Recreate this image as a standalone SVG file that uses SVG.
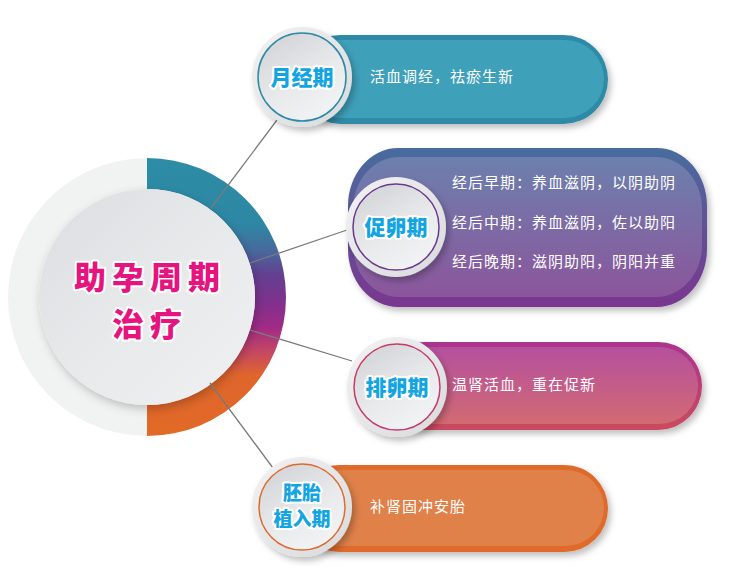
<svg xmlns="http://www.w3.org/2000/svg" width="736" height="577" viewBox="0 0 736 577">
<defs>
<linearGradient id="ringGrad" x1="0" y1="158" x2="0" y2="436" gradientUnits="userSpaceOnUse">
<stop offset="0" stop-color="#2c8ca6"/>
<stop offset="0.24" stop-color="#2e87a4"/>
<stop offset="0.33" stop-color="#466a9c"/>
<stop offset="0.42" stop-color="#643f91"/>
<stop offset="0.52" stop-color="#7f318d"/>
<stop offset="0.61" stop-color="#a12a86"/>
<stop offset="0.7" stop-color="#c64862"/>
<stop offset="0.78" stop-color="#df652c"/>
<stop offset="1" stop-color="#e26a26"/>
</linearGradient>
<linearGradient id="centerDisc" x1="0" y1="0" x2="1" y2="1">
<stop offset="0" stop-color="#dcdde0"/>
<stop offset="0.5" stop-color="#e8e9eb"/>
<stop offset="1" stop-color="#eef0f1"/>
</linearGradient>
<linearGradient id="knob" x1="0.2" y1="0" x2="0.8" y2="1">
<stop offset="0" stop-color="#d3d4d7"/>
<stop offset="0.55" stop-color="#e9eaec"/>
<stop offset="1" stop-color="#f3f4f5"/>
</linearGradient>
<linearGradient id="knobRim" x1="0" y1="0" x2="1" y2="1">
<stop offset="0" stop-color="#f2f2f3"/>
<stop offset="1" stop-color="#d9dadc"/>
</linearGradient>
<linearGradient id="g2o" x1="0" y1="0" x2="0" y2="1">
<stop offset="0" stop-color="#486c9e"/>
<stop offset="1" stop-color="#7a368f"/>
</linearGradient>
<linearGradient id="g2i" x1="0" y1="0" x2="0" y2="1">
<stop offset="0" stop-color="#6c80ad"/>
<stop offset="1" stop-color="#8c559c"/>
</linearGradient>
<linearGradient id="g3o" x1="0" y1="0" x2="0" y2="1">
<stop offset="0" stop-color="#a9348f"/>
<stop offset="1" stop-color="#cb4a5e"/>
</linearGradient>
<linearGradient id="g3i" x1="0" y1="0" x2="0" y2="1">
<stop offset="0" stop-color="#b5509e"/>
<stop offset="1" stop-color="#d26a73"/>
</linearGradient>
<filter id="sh" x="-20%" y="-20%" width="140%" height="150%">
<feDropShadow dx="3" dy="4" stdDeviation="3" flood-color="#000" flood-opacity="0.25"/>
</filter>
<filter id="shc" x="-20%" y="-20%" width="140%" height="140%">
<feDropShadow dx="2" dy="4" stdDeviation="5" flood-color="#000" flood-opacity="0.22"/>
</filter>
</defs>
<style>
.lbl{font-family:"Noto Sans CJK SC","Noto Sans",sans-serif;font-weight:900;fill:#13a4e2;stroke:#ffffff;stroke-width:4;paint-order:stroke;stroke-linejoin:round;text-anchor:middle;font-size:21px}
.lbl2{font-size:19px}
.desc{font-family:"Noto Sans CJK SC","Noto Sans",sans-serif;fill:#ffffff;font-size:15px;letter-spacing:1px}
.title{font-family:"Noto Sans CJK SC","Noto Sans",sans-serif;font-weight:900;fill:#e5147f;stroke:#ffffff;stroke-width:4;paint-order:stroke;stroke-linejoin:round;text-anchor:middle;font-size:32px;letter-spacing:6px}
.conn{stroke:#7a7a7a;stroke-width:1.3;fill:none}
.rim{fill:url(#knobRim)}
.knob{fill:url(#knob)}
</style>
<rect width="736" height="577" fill="#ffffff"/>

<g id="center">
<path d="M147,158 A139,139 0 0 0 147,436 L147,405 A108,108 0 0 1 147,189 Z" fill="#f1f2f2"/>
<path d="M147,158 A139,139 0 0 1 147,436 L147,405 A108,108 0 0 0 147,189 Z" fill="url(#ringGrad)"/>
<circle cx="147" cy="297" r="108" fill="url(#centerDisc)" filter="url(#shc)"/>
<text class="title" x="150" y="289">助孕周期</text>
<text class="title" x="150" y="336">治疗</text>
</g>

<g id="connectors">
<line class="conn" x1="211" y1="208" x2="277" y2="120"/>
<line class="conn" x1="250" y1="263" x2="347" y2="230"/>
<line class="conn" x1="250" y1="330" x2="352" y2="361"/>
<line class="conn" x1="210" y1="383" x2="273" y2="468"/>
</g>

<g id="node1">
<rect x="296" y="35" width="312" height="89" rx="44.5" fill="#2d8aa6" filter="url(#sh)"/>
<rect x="300" y="40" width="304" height="78" rx="39" fill="#3fa0ba"/>
<circle cx="302" cy="77" r="50" class="rim" filter="url(#sh)"/>
<circle cx="302" cy="77" r="44" class="knob" stroke="#2e8ba7" stroke-width="1.5"/>
<text class="lbl" x="302" y="85">月经期</text>
<text class="desc" x="370" y="82">活血调经，祛瘀生新</text>
</g>

<g id="node2">
<rect x="348" y="148" width="359" height="159" rx="50" ry="58" fill="url(#g2o)" filter="url(#sh)"/>
<rect x="353" y="157" width="349" height="140" rx="46" ry="52" fill="url(#g2i)"/>
<circle cx="396" cy="227" r="50" class="rim" filter="url(#sh)"/>
<circle cx="396" cy="227" r="43" class="knob" stroke="#6b3a8e" stroke-width="1.5"/>
<text class="lbl" x="396" y="235">促卵期</text>
<text class="desc" x="452" y="188">经后早期：养血滋阴，以阴助阴</text>
<text class="desc" x="452" y="228">经后中期：养血滋阴，佐以助阳</text>
<text class="desc" x="452" y="267">经后晚期：滋阴助阳，阴阳并重</text>
</g>

<g id="node3">
<rect x="380" y="342" width="322" height="88" rx="44" fill="url(#g3o)" filter="url(#sh)"/>
<rect x="384" y="347" width="314" height="77" rx="38.5" fill="url(#g3i)"/>
<circle cx="397" cy="387" r="50" class="rim" filter="url(#sh)"/>
<circle cx="397" cy="387" r="43" class="knob" stroke="#c93a66" stroke-width="1.5"/>
<text class="lbl" x="397" y="395">排卵期</text>
<text class="desc" x="452" y="390">温肾活血，重在促新</text>
</g>

<g id="node4">
<rect x="296" y="465" width="312" height="87" rx="43.5" fill="#e06b2b" filter="url(#sh)"/>
<rect x="300" y="470" width="304" height="76" rx="38" fill="#df8149"/>
<circle cx="302" cy="507" r="50" class="rim" filter="url(#sh)"/>
<circle cx="302" cy="507" r="43" class="knob" stroke="#e0692b" stroke-width="1.5"/>
<text class="lbl lbl2" x="302" y="500">胚胎</text>
<text class="lbl lbl2" x="302" y="526">植入期</text>
<text class="desc" x="370" y="512">补肾固冲安胎</text>
</g>
</svg>
